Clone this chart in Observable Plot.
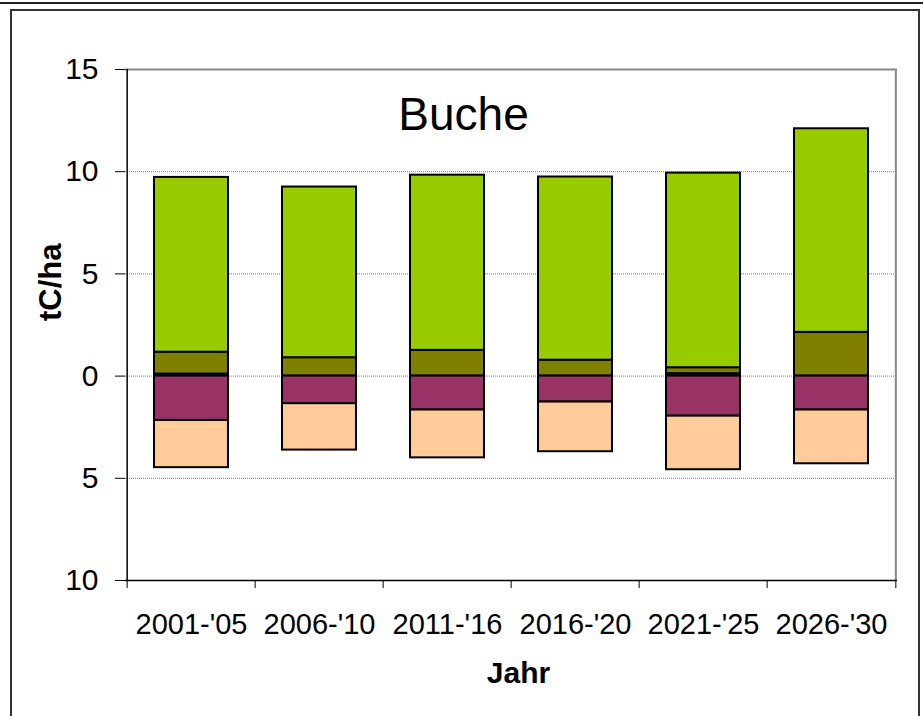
<!DOCTYPE html>
<html><head><meta charset="utf-8">
<script src="https://cdn.jsdelivr.net/npm/d3@7"></script>
<script src="https://cdn.jsdelivr.net/npm/@observablehq/plot@0.6"></script>
<style>
body{margin:0;background:#fff;}
#wrap{position:relative;width:923px;height:716px;overflow:hidden;font-family:"Liberation Sans",Arial,sans-serif;background:#fff;}
#topline{position:absolute;left:0;top:2px;width:923px;height:0;border-top:2px solid #222;}
#box{position:absolute;left:10px;top:9px;width:910px;height:730px;border:2px solid #333;box-sizing:border-box;}
#chart{position:absolute;left:0;top:0;}
</style></head><body>
<div id="wrap"><div id="topline"></div><div id="box"></div><div id="chart"></div></div>
<script>
const years = ["2001-'05","2006-'10","2011-'16","2016-'20","2021-'25","2026-'30"];
const seriesNames = ["dark","olive","green","purple","peach"];
const seriesColors = ["#333300","#808000","#99CC00","#993366","#FFCC99"];
const darkVals   = [0.10, 0, 0, 0, 0.12, 0];
const oliveVals  = [1.07, 0.90, 1.26, 0.78, 0.29, 2.14];
const greenVals  = [8.55, 8.35, 8.57, 8.96, 9.52, 9.96];
const purpleVals = [-2.17, -1.35, -1.66, -1.27, -1.96, -1.66];
const peachVals  = [-2.31, -2.27, -2.34, -2.43, -2.62, -2.63];
const yTicks = [-10, -5, 0, 5, 10, 15];
const gridVals = [10, 5, 0, -5];
const titleText = "Buche";
const yLabel = "tC/ha";
const xLabel = "Jahr";

const valueLists = [darkVals, oliveVals, greenVals, purpleVals, peachVals];
const data = [];
years.forEach((yr, i) => {
  seriesNames.forEach((s, j) => {
    const v = valueLists[j][i];
    if (v !== 0) data.push({year: yr, series: s, value: v});
  });
});

const W = 923, H = 716, mL = 125, mR = 26, mT = 69, mB = 136;
const step = (W - mL - mR) / years.length;
const first = [years[0]], last = [years[years.length - 1]];

const chart = Plot.plot({
  width: W, height: H,
  marginLeft: mL, marginRight: mR, marginTop: mT, marginBottom: mB,
  style: {fontFamily: "'Liberation Sans', Arial, sans-serif", color: "#000", background: "transparent"},
  x: {domain: years, paddingInner: 0.42, paddingOuter: 0.21},
  y: {domain: [-10, 15]},
  color: {domain: seriesNames, range: seriesColors},
  marks: [
    Plot.ruleY(gridVals, {stroke: "#808080", strokeWidth: 1, strokeDasharray: "1,1"}),
    Plot.ruleY([15], {stroke: "#888", strokeWidth: 2}),
    Plot.ruleX(last, {x: d => d, dx: step / 2, y1: -10, y2: 15, stroke: "#888", strokeWidth: 2}),
    Plot.barY(data, {x: "year", y: "value", fill: "series", stroke: "#000", strokeWidth: 2}),
    Plot.ruleY([-10], {stroke: "#000", strokeWidth: 1.5}),
    Plot.ruleX(first, {x: d => d, dx: -step / 2, y1: -10, y2: 15, stroke: "#000", strokeWidth: 1.5}),
    Plot.ruleX(years, {x: d => d, dx: -step / 2, y1: -10, y2: -10.4, stroke: "#000", strokeWidth: 1}),
    Plot.ruleX(last, {x: d => d, dx: step / 2, y1: -10, y2: -10.4, stroke: "#000", strokeWidth: 1}),
    Plot.axisY({ticks: yTicks, tickFormat: d => Math.abs(d), tickSize: 10, tickPadding: 17, fontSize: 30, label: null}),
    Plot.axisX({tickSize: 0, tickPadding: 33, fontSize: 29, label: null}),
    Plot.text([titleText], {frameAnchor: "top", dx: -48, dy: 46, fontSize: 46, lineAnchor: "middle", fill: "#000"}),
    Plot.text([yLabel], {frameAnchor: "left", dx: -74, dy: -4, rotate: -90, fontSize: 31, fontWeight: "bold", lineAnchor: "middle", fill: "#000"}),
    Plot.text([xLabel], {frameAnchor: "bottom", dx: 7, dy: 93, fontSize: 30, fontWeight: "bold", lineAnchor: "middle", fill: "#000"})
  ]
});
document.getElementById("chart").appendChild(chart);
</script>
</body></html>
